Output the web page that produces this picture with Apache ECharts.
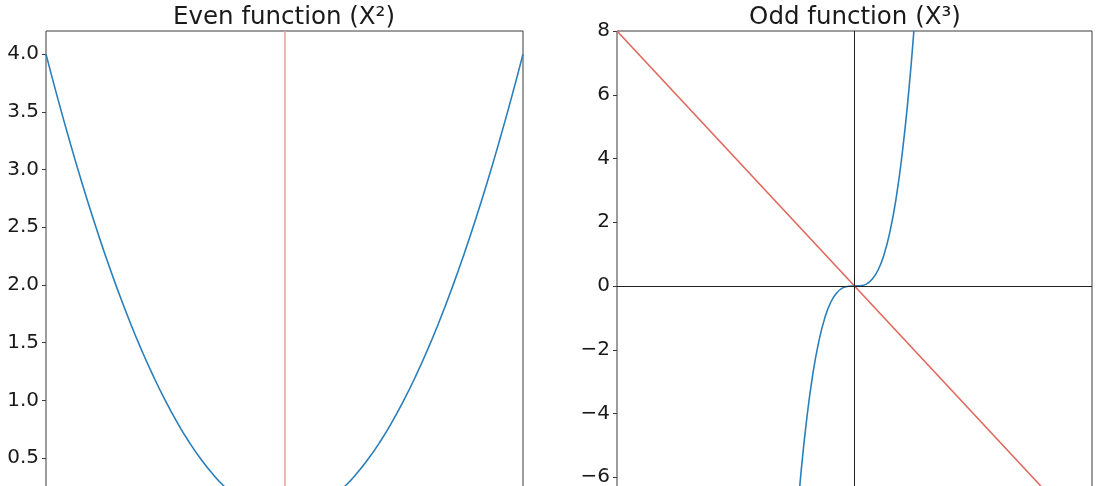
<!DOCTYPE html>
<html>
<head>
<meta charset="utf-8">
<script src="https://cdn.jsdelivr.net/npm/echarts@6/dist/echarts.min.js"></script>
<style>
html,body{margin:0;padding:0;background:#fff;overflow:hidden;width:1100px;height:486px;}
#c{width:1100px;height:570px;}
</style>
</head>
<body>
<div id="c"></div>
<script>
// ---- data ----
const titles = ['Even function (X²)', 'Odd function (X³)'];

// left panel: blue parabola
const evenX = [-2, -1.9, -1.8, -1.7, -1.6, -1.5, -1.4, -1.3, -1.2, -1.1, -1, -0.9, -0.8, -0.7, -0.6, -0.5, -0.4, -0.3, -0.2, -0.1, 0,
               0.1, 0.2, 0.3, 0.4, 0.5, 0.6, 0.7, 0.8, 0.9, 1, 1.1, 1.2, 1.3, 1.4, 1.5, 1.6, 1.7, 1.8, 1.9, 2];
const evenY = [4, 3.61, 3.24, 2.89, 2.56, 2.25, 1.96, 1.69, 1.44, 1.21, 1, 0.81, 0.64, 0.49, 0.36, 0.25, 0.16, 0.09, 0.04, 0.01, 0,
               0.01, 0.04, 0.09, 0.16, 0.25, 0.36, 0.49, 0.64, 0.81, 1, 1.21, 1.44, 1.69, 1.96, 2.25, 2.56, 2.89, 3.24, 3.61, 4];
const evenTicks = [0, 0.5, 1.0, 1.5, 2.0, 2.5, 3.0, 3.5, 4.0];
const evenRefX = 0; // red vertical line

// right panel: blue cubic
const oddX = [-0.5, -0.45, -0.4, -0.35, -0.3, -0.25, -0.2, -0.15, -0.1, -0.05, 0, 0.05, 0.1, 0.15, 0.2, 0.25, 0.3, 0.35, 0.4, 0.45, 0.5];
const oddY = [-8, -5.83, -4.1, -2.74, -1.73, -1.0, -0.51, -0.22, -0.06, -0.01, 0, 0.01, 0.06, 0.22, 0.51, 1.0, 1.73, 2.74, 4.1, 5.83, 8];
// right panel: red straight line
const redX = [-2, 2];
const redY = [8, -8];
const oddRefX = 0; // black vertical line
const oddRefY = 0; // black horizontal line

const zip = (xs, ys) => xs.map((x, i) => [x, ys[i]]);

const FONT = 'DejaVu Sans';
const BLUE = '#2a7fba';
const gridCommon = { show: true, borderColor: '#3a3a3a', borderWidth: 1, backgroundColor: 'transparent' };

const yLabel = (decimals) => ({
  show: true, fontFamily: FONT, fontSize: 20, color: '#1a1a1a', margin: 7,
  formatter: v => (decimals ? Number(v).toFixed(1) : String(v)).replace('-', '\u2212')
});

const hiddenX = (gi) => ({ type: 'value', gridIndex: gi, min: -2, max: 2,
  axisLine: { show: false, onZero: false }, axisTick: { show: false },
  axisLabel: { show: false }, splitLine: { show: false } });

const option = {
  backgroundColor: '#fff',
  animation: false,
  title: [
    { text: titles[0], left: 284, top: 5, textAlign: 'center', padding: 0,
      textStyle: { fontFamily: FONT, fontSize: 24.5, fontWeight: 'normal', color: '#1a1a1a' } },
    { text: titles[1], left: 855, top: 5, textAlign: 'center', padding: 0,
      textStyle: { fontFamily: FONT, fontSize: 24.5, fontWeight: 'normal', color: '#1a1a1a' } }
  ],
  grid: [
    Object.assign({ left: 46, top: 31, width: 477, height: 508 }, gridCommon),
    Object.assign({ left: 617, top: 31, width: 475, height: 510 }, gridCommon)
  ],
  xAxis: [hiddenX(0), hiddenX(1)],
  yAxis: [
    { type: 'value', gridIndex: 0, min: -0.2, max: 4.2, position: 'left',
      axisLine: { show: false, onZero: false },
      axisTick: { show: true, length: 4, customValues: evenTicks, lineStyle: { color: '#3a3a3a' } },
      axisLabel: Object.assign(yLabel(true), { customValues: evenTicks }),
      splitLine: { show: false } },
    { type: 'value', gridIndex: 1, min: -8, max: 8, interval: 2, position: 'left',
      axisLine: { show: false, onZero: false },
      axisTick: { show: true, length: 4, lineStyle: { color: '#3a3a3a' } },
      axisLabel: yLabel(false),
      splitLine: { show: false } }
  ],
  series: [
    { type: 'line', xAxisIndex: 0, yAxisIndex: 0, data: zip(evenX, evenY), smooth: true,
      showSymbol: false, symbol: 'none', lineStyle: { color: BLUE, width: 1.6 }, clip: true,
      markLine: { silent: true, symbol: 'none', label: { show: false },
        lineStyle: { color: '#f2a2a2', width: 1.6, type: 'solid' },
        data: [{ xAxis: evenRefX }] } },
    { type: 'line', xAxisIndex: 1, yAxisIndex: 1, data: zip(oddX, oddY), smooth: true,
      showSymbol: false, symbol: 'none', lineStyle: { color: BLUE, width: 1.6 }, clip: true,
      markLine: { silent: true, symbol: 'none', label: { show: false },
        lineStyle: { color: '#222', width: 1, type: 'solid' },
        data: [{ xAxis: oddRefX }, { yAxis: oddRefY }] } },
    { type: 'line', xAxisIndex: 1, yAxisIndex: 1, data: zip(redX, redY),
      showSymbol: false, symbol: 'none', lineStyle: { color: '#e0675c', width: 1.6 }, clip: true, z: 3 }
  ]
};

const chart = echarts.init(document.getElementById('c'), null, { renderer: 'canvas' });
chart.setOption(option);
</script>
</body>
</html>
